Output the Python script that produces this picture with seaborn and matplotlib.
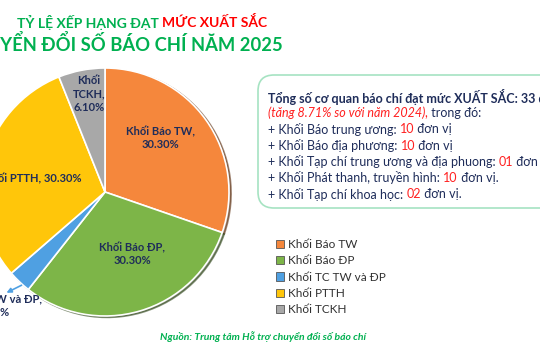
import matplotlib
matplotlib.use("Agg")
import matplotlib.pyplot as plt
import seaborn as sns
from matplotlib.patches import FancyBboxPatch

sns.set_theme(style="white")
FONT = ['Lato', 'Noto Sans', 'DejaVu Sans']
plt.rcParams['font.family'] = FONT

categories = ["Khối Báo TW", "Khối Báo ĐP", "Khối TC TW và ĐP", "Khối PTTH", "Khối TCKH"]
counts = [10, 10, 1, 10, 2]
pct_labels = ["30.30%", "30.30%", "3.00%", "30.30%", "6.10%"]
colors = ["#F5873C", "#7DB548", "#4FA0E2", "#FFC60A", "#A8A8A8"]

title1_green = "TỶ LỆ XẾP HẠNG ĐẠT "
title1_red = "MỨC XUẤT SẮC"
title2 = "CHUYỂN ĐỔI SỐ BÁO CHÍ NĂM 2025"
source = "Nguồn: Trung tâm Hỗ trợ chuyển đổi số báo chí"

box_lines = [
    [("Tổng số cơ quan báo chí đạt mức XUẤT SẮC: 33 đơn vị", "#1F2D5A", "bold", "normal")],
    [("(tăng 8.71% so với năm 2024),", "#FF2020", "normal", "italic"),
     (" trong đó:", "#1F2D5A", "normal", "normal")],
    [("+ Khối Báo trung ương: ", "#1F2D5A", "normal", "normal"), ("10", "#FF2020", "normal", "normal"),
     (" đơn vị", "#1F2D5A", "normal", "normal")],
    [("+ Khối Báo địa phương: ", "#1F2D5A", "normal", "normal"), ("10", "#FF2020", "normal", "normal"),
     (" đơn vị", "#1F2D5A", "normal", "normal")],
    [("+ Khối Tạp chí trung ương và địa phuong: ", "#1F2D5A", "normal", "normal"), ("01", "#FF2020", "normal", "normal"),
     (" đơn vị", "#1F2D5A", "normal", "normal")],
    [("+ Khối Phát thanh, truyền hình: ", "#1F2D5A", "normal", "normal"), ("10", "#FF2020", "normal", "normal"),
     (" đơn vị.", "#1F2D5A", "normal", "normal")],
    [("+ Khối Tạp chí khoa học: ", "#1F2D5A", "normal", "normal"), ("02", "#FF2020", "normal", "normal"),
     (" đơn vị.", "#1F2D5A", "normal", "normal")],
]

W, H = 540, 360
fig = plt.figure(figsize=(5.4, 3.6), dpi=100)
ax = fig.add_axes([0, 0, 1, 1])
ax.set_xlim(0, W)
ax.set_ylim(0, H)
ax.set_aspect("equal")
ax.axis("off")

def Y(y):
    return H - y

GREEN = "#00B050"
NAVY = "#1F2D5A"

# pie
wedges, _ = ax.pie(counts, colors=colors, startangle=90, counterclock=False,
                   center=(105, Y(192)), radius=124,
                   shadow=dict(ox=1.5, oy=-1.0, shade=0.6, alpha=0.6),
                   wedgeprops=dict(edgecolor="white", linewidth=1.2))
ax.set_xlim(0, W)
ax.set_ylim(0, H)

lab_kw = dict(color=NAVY, fontsize=8, fontweight="bold", ha="center", va="center",
              multialignment="center", linespacing=1.25)
ax.text(160, Y(138), f"{categories[0]},\n{pct_labels[0]}", **lab_kw)
ax.text(132, Y(254), f"{categories[1]},\n{pct_labels[1]}", **lab_kw)
kw_r = dict(lab_kw)
kw_r["ha"] = "right"
ax.text(82, Y(179), f"{categories[3]}, {pct_labels[3]}", **kw_r)
ax.text(89, Y(94), f"Khối\nTCKH,\n{pct_labels[4]}", **lab_kw)
ax.text(-6, Y(306), f"{categories[2]},\n{pct_labels[2]}", **lab_kw)
ax.annotate("", xy=(4, Y(294)), xytext=(24, Y(284)),
            arrowprops=dict(arrowstyle="-|>", color="#4FA0E2", lw=1.2, mutation_scale=7))

# titles
t = ax.text(17, Y(22), title1_green, color=GREEN, fontsize=10, fontweight="bold", va="center", ha="left")
ax.annotate(title1_red, xy=(1, 0.5), xycoords=t, color="#FF0000", fontsize=10, fontweight="bold",
            va="center", ha="left")
ax.text(283, Y(44), title2, color=GREEN, fontsize=13.2, fontweight="bold", va="center", ha="right")

# box
box = FancyBboxPatch((258, Y(208)), 330, 133, boxstyle="round,pad=0,rounding_size=16",
                     facecolor="white", edgecolor="#A6E3C2", linewidth=1.2)
ax.add_patch(box)
y0 = 97
for i, segs in enumerate(box_lines):
    prev = None
    for txt, col, wt, st in segs:
        if prev is None:
            prev = ax.text(268, Y(y0 + 16.2 * i), txt, color=col, fontsize=9, fontweight=wt,
                           fontstyle=st, va="center", ha="left")
        else:
            prev = ax.annotate(txt, xy=(1, 0.5), xycoords=prev, color=col, fontsize=9,
                               fontweight=wt, fontstyle=st, va="center", ha="left")

# legend
leg = ax.legend(wedges, categories, loc="upper left", bbox_to_anchor=(276 / W, 1 - 239 / H),
                frameon=False, fontsize=8.5, handlelength=0.7, handleheight=0.7,
                handletextpad=0.3, labelspacing=0.45, borderpad=0, borderaxespad=0)
for txt in leg.get_texts():
    txt.set_color("#303030")
for h in leg.legend_handles:
    h.set_edgecolor("#555555")
    h.set_linewidth(0.6)

ax.text(263, Y(337), source, color=GREEN, fontsize=7.5, fontweight="bold", fontstyle="italic",
        ha="center", va="center")

fig.savefig("out.png", dpi=100, facecolor="white")
